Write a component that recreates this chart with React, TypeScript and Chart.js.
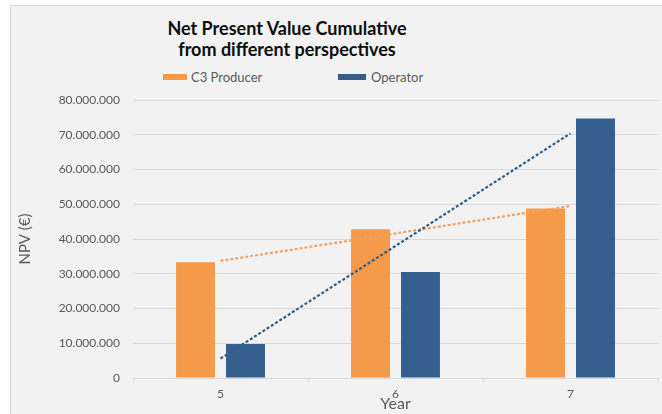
import React, { useEffect, useRef } from 'react';
import { Chart, registerables } from 'chart.js';

Chart.register(...registerables);

const years = ['5', '6', '7'];
const c3Producer = [33300000, 42800000, 48800000];
const operator = [9800000, 30500000, 74700000];
const c3Trend = [33700000, null, 49500000];
const operatorTrend = [5600000, null, 70400000];
const yMin = 0;
const yMax = 80000000;
const yStep = 10000000;

const ORANGE = '#F59A48';
const BLUE = '#355F8F';
const ORANGE_TREND = '#EFA265';
const BLUE_TREND = '#2D5E8C';
const GRID = '#D9D9D9';
const TEXT = '#595959';
const FONT = 'Lato, "Open Sans", sans-serif';

const fmt = (v: number) => String(Math.round(v)).replace(/\B(?=(\d{3})+(?!\d))/g, '.');

export default function App() {
  const ref = useRef<HTMLCanvasElement | null>(null);

  useEffect(() => {
    if (!ref.current) return;
    const chart = new Chart(ref.current, {
      type: 'bar',
      data: {
        labels: years,
        datasets: [
          {
            type: 'line',
            label: 'Operator trend',
            data: operatorTrend,
            borderColor: BLUE_TREND,
            borderWidth: 2.2,
            borderDash: [3, 2],
            pointRadius: 0,
            spanGaps: true,
            fill: false,
            order: 0,
          },
          {
            type: 'line',
            label: 'C3 Producer trend',
            data: c3Trend,
            borderColor: ORANGE_TREND,
            borderWidth: 2.2,
            borderDash: [3, 2],
            pointRadius: 0,
            spanGaps: true,
            fill: false,
            order: 1,
          },
          {
            type: 'bar',
            label: 'C3 Producer',
            data: c3Producer,
            backgroundColor: ORANGE,
            categoryPercentage: 0.571,
            barPercentage: 0.78,
            order: 2,
          },
          {
            type: 'bar',
            label: 'Operator',
            data: operator,
            backgroundColor: BLUE,
            categoryPercentage: 0.571,
            barPercentage: 0.78,
            order: 2,
          },
        ] as any,
      },
      options: {
        animation: false,
        responsive: false,
        maintainAspectRatio: false,
        layout: { padding: { top: 95, right: 4, left: 0, bottom: 0 } },
        plugins: {
          legend: { display: false },
          title: { display: false },
          tooltip: { enabled: false },
        },
        scales: {
          x: {
            grid: {
              display: true,
              drawOnChartArea: false,
              drawTicks: true,
              tickLength: 5,
              color: GRID,
              offset: true,
            },
            border: { display: true, color: GRID, width: 1 },
            ticks: {
              color: TEXT,
              font: { family: FONT, size: 12 },
              padding: 4,
            },
            title: {
              display: true,
              text: 'Year',
              color: TEXT,
              font: { family: FONT, size: 16 },
              padding: { top: 0, bottom: 1 },
            },
            afterFit: (s: any) => {
              s.height = 36;
            },
          },
          y: {
            min: yMin,
            max: yMax,
            grid: { color: GRID, drawTicks: false, lineWidth: 1 },
            border: { display: false },
            ticks: {
              stepSize: yStep,
              color: TEXT,
              padding: 13,
              font: { family: FONT, size: 12 },
              callback: (v: any) => fmt(Number(v)),
            },
            title: {
              display: true,
              text: 'NPV (€)',
              color: TEXT,
              font: { family: FONT, size: 15 },
              padding: { top: 6, bottom: 0 },
            },
            afterFit: (s: any) => {
              s.width = 123;
            },
          },
        },
      } as any,
    });
    return () => chart.destroy();
  }, []);

  return (
    <div style={{ position: 'absolute', left: 0, top: 0, width: 662, height: 414, background: '#FFFFFF', overflow: 'hidden' }}>
      <div
        style={{
          position: 'absolute',
          left: 10,
          top: 5,
          width: 652,
          height: 409,
          background: '#F2F2F2',
          borderLeft: '1px solid #D6D6D6',
          borderTop: '1px solid #D6D6D6',
          boxSizing: 'border-box',
        }}
      />
      <div
        style={{
          position: 'absolute',
          left: 0,
          top: 18,
          width: 574,
          textAlign: 'center',
          fontFamily: FONT,
          fontWeight: 700,
          fontSize: 18,
          lineHeight: '21px',
          color: '#0D0D0D',
        }}
      >
        <div>Net Present Value Cumulative</div>
        <div>from different perspectives</div>
      </div>
      <div style={{ position: 'absolute', left: 163, top: 74, width: 24, height: 6, background: ORANGE }} />
      <div style={{ position: 'absolute', left: 191, top: 69, fontFamily: FONT, fontSize: 13, lineHeight: '16px', color: TEXT, whiteSpace: 'nowrap' }}>
        C3 Producer
      </div>
      <div style={{ position: 'absolute', left: 338, top: 74, width: 28, height: 6, background: BLUE }} />
      <div style={{ position: 'absolute', left: 371, top: 69, fontFamily: FONT, fontSize: 13, lineHeight: '16px', color: TEXT, whiteSpace: 'nowrap' }}>
        Operator
      </div>
      <canvas
        ref={ref}
        width={652}
        height={409}
        style={{ position: 'absolute', left: 10, top: 5, width: 652, height: 409 }}
      />
    </div>
  );
}
